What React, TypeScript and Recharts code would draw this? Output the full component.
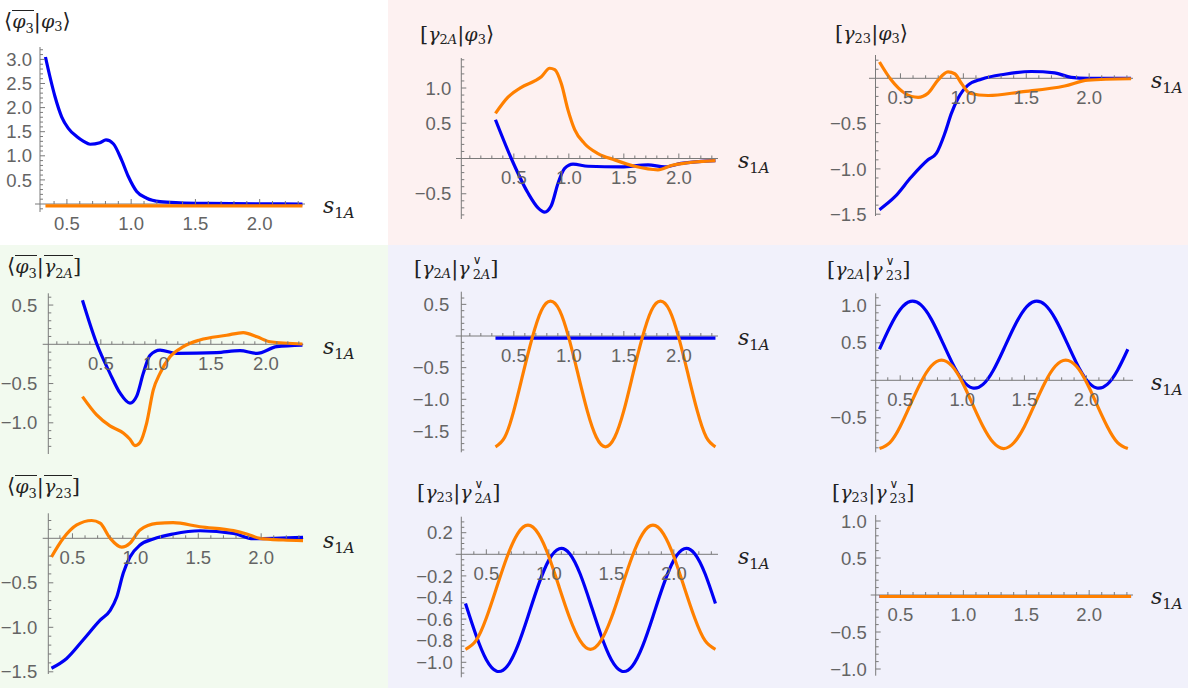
import React from 'react'
import { LineChart, Line, XAxis, YAxis, ReferenceLine } from 'recharts'

const W = 1188
const H = 688
const BLUE = '#0000f5'
const ORANGE = '#ff8000'
const AXIS = '#7a7a7a'
const LABEL = '#646464'
const SERIF = '"DejaVu Serif", serif'
const SANS = '"Liberation Sans", Arial, sans-serif'

type Pt = { s: number; v: number }
const toPts = (a: number[][]): Pt[] => a.map(([s, v]) => ({ s, v }))

// tick labels on the s axis (same in every panel)
const xMajorTicks = [0.5, 1.0, 1.5, 2.0]

// shared sample points for the periodic panels
const sGrid = [
    0.333, 0.417, 0.5, 0.583, 0.667, 0.75, 0.833, 0.917, 1.0, 1.083, 1.167, 1.25, 1.333,
    1.417, 1.5, 1.583, 1.667, 1.75, 1.833, 1.917, 2.0, 2.083, 2.167, 2.25, 2.333,
]
const onGrid = (vals: number[]): Pt[] => vals.map((v, i) => ({ s: sGrid[i], v }))

// row 1
const p1Blue = [
    [0.333, 3.05], [0.368, 2.64], [0.407, 2.23], [0.459, 1.81], [0.511, 1.57], [0.576, 1.4],
    [0.63, 1.3], [0.68, 1.24], [0.757, 1.27], [0.804, 1.33], [0.861, 1.25], [0.926, 0.91],
    [0.978, 0.57], [1.043, 0.26], [1.121, 0.12], [1.225, 0.05], [1.38, 0.025], [1.6, 0.012],
    [2.0, 0.005], [2.333, 0.0],
]
const p1Orange = [[0.333, -0.04], [1.333, -0.04], [2.333, -0.04]]

const p2Blue = [
    [0.333, 0.55], [0.477, 0.0], [0.629, -0.49], [0.72, -0.7], [0.78, -0.76], [0.84, -0.67],
    [0.902, -0.35], [0.962, -0.14], [1.038, -0.08], [1.174, -0.11], [1.477, -0.12], [1.72, -0.09],
    [1.871, -0.12], [2.022, -0.07], [2.333, -0.03],
]
const p2Orange = [
    [0.333, 0.64], [0.447, 0.87], [0.568, 1.01], [0.69, 1.1], [0.75, 1.16], [0.826, 1.28],
    [0.872, 1.26], [0.932, 1.06], [0.992, 0.69], [1.053, 0.41], [1.144, 0.21], [1.265, 0.07],
    [1.417, -0.02], [1.599, -0.11], [1.81, -0.16], [1.932, -0.1], [2.083, -0.06], [2.333, -0.03],
]

const p3Blue = [
    [0.333, -1.45], [0.454, -1.31], [0.586, -1.09], [0.719, -0.9], [0.785, -0.83], [0.852, -0.61],
    [0.904, -0.39], [0.958, -0.22], [1.037, -0.075], [1.143, -0.01], [1.329, 0.045], [1.54, 0.075],
    [1.726, 0.06], [1.858, 0.01], [1.99, 0.0], [2.333, 0.0],
]
const p3Orange = [
    [0.333, 0.18], [0.427, -0.02], [0.534, -0.165], [0.64, -0.21], [0.719, -0.165], [0.798, -0.02],
    [0.878, 0.07], [0.931, 0.05], [0.984, -0.055], [1.05, -0.165], [1.197, -0.19], [1.46, -0.15],
    [1.805, -0.085], [1.99, -0.02], [2.333, -0.005],
]

// row 2
const p4Blue = [
    [0.333, 0.56], [0.462, 0.01], [0.583, -0.37], [0.674, -0.62], [0.765, -0.75], [0.826, -0.66],
    [0.886, -0.37], [0.947, -0.14], [1.038, -0.075], [1.19, -0.115], [1.553, -0.105], [1.765, -0.08],
    [1.92, -0.115], [2.1, -0.03], [2.333, -0.01],
]
const p4Orange = [
    [0.333, -0.667], [0.462, -0.9], [0.583, -1.04], [0.704, -1.13], [0.765, -1.21], [0.81, -1.29],
    [0.856, -1.25], [0.917, -1.0], [0.977, -0.58], [1.038, -0.37], [1.129, -0.16], [1.25, -0.03],
    [1.4, 0.055], [1.644, 0.115], [1.795, 0.15], [1.92, 0.095], [2.04, 0.033], [2.333, 0.004],
]

const p5Blue = [[0.333, -0.035], [1.333, -0.035], [2.333, -0.035]]
const p5Orange = [
    -1.75, -1.6, -1.18, -0.6, -0.03, 0.4, 0.55, 0.4, -0.03, -0.6, -1.18, -1.6, -1.75,
    -1.6, -1.18, -0.6, -0.03, 0.4, 0.55, 0.4, -0.03, -0.6, -1.18, -1.6, -1.75,
]

const p6Blue = [
    0.414, 0.711, 0.944, 1.052, 1.005, 0.816, 0.536, 0.239, 0.006, -0.102, -0.055, 0.134, 0.414,
    0.711, 0.944, 1.052, 1.005, 0.816, 0.536, 0.239, 0.006, -0.102, -0.055, 0.134, 0.414,
]
const p6Orange = [
    -0.91, -0.83, -0.615, -0.32, -0.025, 0.19, 0.27, 0.19, -0.025, -0.32, -0.615, -0.83, -0.91,
    -0.83, -0.615, -0.32, -0.025, 0.19, 0.27, 0.19, -0.025, -0.32, -0.615, -0.83, -0.91,
]

// row 3
const p7Blue = [
    [0.333, -1.46], [0.454, -1.35], [0.586, -1.14], [0.72, -0.92], [0.8, -0.81], [0.852, -0.66],
    [0.904, -0.39], [0.957, -0.21], [1.037, -0.075], [1.143, -0.008], [1.3, 0.048], [1.514, 0.085],
    [1.78, 0.056], [1.937, -0.004], [2.333, 0.01],
]
const p7Orange = [
    [0.333, -0.21], [0.427, 0.0], [0.534, 0.15], [0.653, 0.2], [0.72, 0.17], [0.8, 0.0],
    [0.891, -0.1], [0.957, -0.056], [1.037, 0.093], [1.17, 0.168], [1.3, 0.176], [1.514, 0.13],
    [1.78, 0.086], [1.885, 0.048], [1.99, 0.0], [2.175, -0.019], [2.333, -0.026],
]

const p8Blue = [
    -0.455, -0.747, -0.976, -1.082, -1.036, -0.85, -0.575, -0.283, -0.054, 0.052, 0.006, -0.18, -0.455,
    -0.747, -0.976, -1.082, -1.036, -0.85, -0.575, -0.283, -0.054, 0.052, 0.006, -0.18, -0.455,
]
const p8Orange = [
    -0.88, -0.8, -0.59, -0.305, -0.02, 0.19, 0.27, 0.19, -0.02, -0.305, -0.59, -0.8, -0.88,
    -0.8, -0.59, -0.305, -0.02, 0.19, 0.27, 0.19, -0.02, -0.305, -0.59, -0.8, -0.88,
]

const p9Blue = [[0.333, -0.02], [1.333, -0.02], [2.333, -0.02]]
const p9Orange = [[0.333, -0.02], [1.333, -0.02], [2.333, -0.02]]

// --- title pieces ---
const Br = ({ c }: { c: string }) => <span style={{ fontSize: 21, fontStyle: 'normal' }}>{c}</span>
const subText = (t: string) => t.split('').map((ch, i) => (ch === 'A' ? <i key={i}>A</i> : ch))
const Sub = ({ t }: { t: string }) => (
    <span style={{ fontSize: 13, position: 'relative', top: 5, fontStyle: 'normal' }}>{subText(t)}</span>
)
const G = ({ c }: { c: string }) => <i>{c}</i>
const Over = ({ children }: { children: React.ReactNode }) => (
    <span style={{ display: 'inline-block', borderTop: '1.3px solid #222', lineHeight: '19px', paddingTop: 1 }}>{children}</span>
)
const Chk = ({ t }: { t: string }) => (
    <span style={{ display: 'inline-flex', flexDirection: 'column', verticalAlign: -9, lineHeight: 1, marginLeft: 3 }}>
        <span style={{ fontSize: 12, lineHeight: '11px', marginBottom: 2 }}>∨</span>
        <span style={{ fontSize: 13, lineHeight: '13px' }}>{subText(t)}</span>
    </span>
)
const phi3 = <><G c="φ" /><Sub t="3" /></>
const g2A = <><G c="γ" /><Sub t="2A" /></>
const g23 = <><G c="γ" /><Sub t="23" /></>

type Panel = {
    title: React.ReactNode
    titleX: number
    titleY: number
    yAxisX: number
    xL: number
    xR: number
    zeroY: number
    yTop: number
    yBot: number
    s0: number
    kx: number
    ky: number
    yMajor: number[]
    yMinorStep: number
    yMinorPer: number
    gap: number
    labelX: number
    blue: Pt[]
    orange: Pt[]
    curve: 'monotone' | 'natural'
}

const panels: Panel[] = [
    {
        title: <><Br c="⟨" /><Over>{phi3}</Over><Br c="|" />{phi3}<Br c="⟩" /></>,
        titleX: 4, titleY: 21, yAxisX: 40, xL: 34, xR: 305, zeroY: 204, yTop: 47, yBot: 213,
        s0: 45.5, kx: 128.5, ky: 48.2, yMajor: [0.5, 1.0, 1.5, 2.0, 2.5, 3.0], yMinorStep: 0.1, yMinorPer: 5,
        gap: 8, labelX: 323, blue: toPts(p1Blue), orange: toPts(p1Orange), curve: 'monotone',
    },
    {
        title: <><Br c="[" />{g2A}<Br c="|" />{phi3}<Br c="⟩" /></>,
        titleX: 420, titleY: 34, yAxisX: 461.3, xL: 455, xR: 718, zeroY: 158.5, yTop: 58, yBot: 220,
        s0: 495.5, kx: 110, ky: 70.5, yMajor: [-0.5, 0.5, 1.0], yMinorStep: 0.1, yMinorPer: 5,
        gap: 10, labelX: 738, blue: toPts(p2Blue), orange: toPts(p2Orange), curve: 'monotone',
    },
    {
        title: <><Br c="[" />{g23}<Br c="|" />{phi3}<Br c="⟩" /></>,
        titleX: 835, titleY: 33, yAxisX: 875.5, xL: 868, xR: 1133, zeroY: 78.3, yTop: 55, yBot: 217,
        s0: 879.5, kx: 125.8, ky: 90.6, yMajor: [-1.5, -1.0, -0.5], yMinorStep: 0.1, yMinorPer: 5,
        gap: 9, labelX: 1151, blue: toPts(p3Blue), orange: toPts(p3Orange), curve: 'monotone',
    },
    {
        title: <><Br c="⟨" /><Over>{phi3}</Over><Br c="|" /><Over>{g2A}</Over><Br c="]" /></>,
        titleX: 7, titleY: 266, yAxisX: 48.3, xL: 41.7, xR: 303.3, zeroY: 344.3, yTop: 293.3, yBot: 455,
        s0: 82.5, kx: 110, ky: 78.5, yMajor: [-1.0, -0.5, 0.5], yMinorStep: 0.1, yMinorPer: 5,
        gap: 11, labelX: 323, blue: toPts(p4Blue), orange: toPts(p4Orange), curve: 'monotone',
    },
    {
        title: <><Br c="[" />{g2A}<Br c="|" /><G c="γ" /><Chk t="2A" /><Br c="]" /></>,
        titleX: 414, titleY: 268, yAxisX: 461.3, xL: 454.7, xR: 718, zeroY: 336, yTop: 291.7, yBot: 453.3,
        s0: 495.5, kx: 110, ky: 63.3, yMajor: [-1.5, -1.0, -0.5, 0.5], yMinorStep: 0.1, yMinorPer: 5,
        gap: 12, labelX: 738, blue: toPts(p5Blue), orange: onGrid(p5Orange), curve: 'natural',
    },
    {
        title: <><Br c="[" />{g2A}<Br c="|" /><G c="γ" /><Chk t="23" /><Br c="]" /></>,
        titleX: 827, titleY: 269, yAxisX: 875.7, xL: 869.7, xR: 1133, zeroY: 380.3, yTop: 293.3, yBot: 453.3,
        s0: 879.5, kx: 124.2, ky: 75, yMajor: [-0.5, 0.5, 1.0], yMinorStep: 0.1, yMinorPer: 5,
        gap: 9, labelX: 1151, blue: onGrid(p6Blue), orange: onGrid(p6Orange), curve: 'natural',
    },
    {
        title: <><Br c="⟨" /><Over>{phi3}</Over><Br c="|" /><Over>{g23}</Over><Br c="]" /></>,
        titleX: 7, titleY: 486, yAxisX: 48.3, xL: 41.7, xR: 303.3, zeroY: 538.3, yTop: 513.3, yBot: 675,
        s0: 51.5, kx: 125.8, ky: 89, yMajor: [-1.5, -1.0, -0.5], yMinorStep: 0.1, yMinorPer: 5,
        gap: 11, labelX: 323, blue: toPts(p7Blue), orange: toPts(p7Orange), curve: 'monotone',
    },
    {
        title: <><Br c="[" />{g23}<Br c="|" /><G c="γ" /><Chk t="2A" /><Br c="]" /></>,
        titleX: 417, titleY: 492, yAxisX: 461.3, xL: 454.7, xR: 718, zeroY: 554.3, yTop: 516.7, yBot: 678.3,
        s0: 465.5, kx: 125, ky: 108, yMajor: [-1.0, -0.8, -0.6, -0.4, -0.2, 0.2], yMinorStep: 0.05, yMinorPer: 4,
        gap: 8.5, labelX: 738, blue: onGrid(p8Blue), orange: onGrid(p8Orange), curve: 'natural',
    },
    {
        title: <><Br c="[" />{g23}<Br c="|" /><G c="γ" /><Chk t="23" /><Br c="]" /></>,
        titleX: 832, titleY: 492, yAxisX: 875.7, xL: 869.7, xR: 1133, zeroY: 595, yTop: 515, yBot: 676.7,
        s0: 879.5, kx: 125.8, ky: 74, yMajor: [-1.0, -0.5, 0.5, 1.0], yMinorStep: 0.1, yMinorPer: 5,
        gap: 9, labelX: 1151, blue: toPts(p9Blue), orange: toPts(p9Orange), curve: 'natural',
    },
]

const fmt = (v: number) => (v < 0 ? '\u2212' : '') + Math.abs(v).toFixed(1)
const near = (a: number, list: number[]) => list.some((b) => Math.abs(a - b) < 1e-6)

function minorTicks(lo: number, hi: number, step: number, per: number) {
    const out: number[] = []
    for (let i = Math.ceil(lo / step); i <= Math.floor(hi / step); i++) {
        if (i % per !== 0) out.push(+(i * step).toFixed(3))
    }
    return out
}

function PanelChart({ p }: { p: Panel }) {
    // axes get 1px of room so Recharts still draws their ticks
    const plotL = p.xL + 1
    const plotB = p.yBot - 1
    const sL = 1 / 3 + (plotL - p.s0) / p.kx
    const sR = 1 / 3 + (p.xR - p.s0) / p.kx
    const vT = (p.zeroY - p.yTop) / p.ky
    const vB = (p.zeroY - plotB) / p.ky
    const sAxis = 1 / 3 + (p.yAxisX - p.s0) / p.kx
    const xTicks = [...xMajorTicks, ...minorTicks(sL, sR, 0.1, 5).filter((t) => Math.abs(t - sAxis) * p.kx > 3)]
    const yTicks = [...p.yMajor, ...minorTicks(vB, vT, p.yMinorStep, p.yMinorPer)]

    const xTick = (t: any) => {
        const v = t.payload.value
        const major = near(v, xMajorTicks)
        return (
            <g>
                <line x1={t.x} x2={t.x} y1={p.zeroY} y2={p.zeroY - (major ? 5 : 3)} stroke={AXIS} strokeWidth={1} />
                {major && (
                    <text x={t.x} y={p.zeroY + 25.5} textAnchor="middle" fontSize={18.5} fill={LABEL} fontFamily={SANS}>
                        {fmt(v)}
                    </text>
                )}
            </g>
        )
    }
    const yTick = (t: any) => {
        const v = t.payload.value
        const major = near(v, p.yMajor)
        return (
            <g>
                <line x1={p.yAxisX} x2={p.yAxisX + (major ? 5 : 3)} y1={t.y} y2={t.y} stroke={AXIS} strokeWidth={1} />
                {major && (
                    <text x={p.yAxisX - p.gap} y={t.y + 6.6} textAnchor="end" fontSize={18.5} fill={LABEL} fontFamily={SANS}>
                        {fmt(v)}
                    </text>
                )}
            </g>
        )
    }

    return (
        <div style={{ position: 'absolute', left: 0, top: 0 }}>
            <LineChart width={W} height={H} margin={{ left: p.xL, right: W - p.xR, top: p.yTop, bottom: H - p.yBot }}>
                <XAxis type="number" dataKey="s" domain={[sL, sR]} allowDataOverflow ticks={xTicks} interval={0}
                    height={1} axisLine={false} tickLine={false} tick={xTick} />
                <YAxis type="number" domain={[vB, vT]} allowDataOverflow ticks={yTicks} interval={0}
                    width={1} axisLine={false} tickLine={false} tick={yTick} />
                <ReferenceLine y={0} stroke={AXIS} strokeWidth={1} />
                <ReferenceLine x={sAxis} stroke={AXIS} strokeWidth={1} />
                <Line data={p.blue} dataKey="v" type={p.curve} stroke={BLUE} strokeWidth={3.2} dot={false} isAnimationActive={false} />
                <Line data={p.orange} dataKey="v" type={p.curve} stroke={ORANGE} strokeWidth={3.2} dot={false} isAnimationActive={false} />
            </LineChart>
        </div>
    )
}

export default function App() {
    return (
        <div style={{ position: 'absolute', left: 0, top: 0, width: W, height: H, overflow: 'hidden', background: '#fff' }}>
            <div style={{ position: 'absolute', left: 388, top: 0, width: 800, height: 245, background: '#fdf1f1' }} />
            <div style={{ position: 'absolute', left: 0, top: 245, width: 388, height: 443, background: '#f2faef' }} />
            <div style={{ position: 'absolute', left: 388, top: 245, width: 800, height: 443, background: '#f1f1fb' }} />
            {panels.map((p, i) => (
                <PanelChart key={i} p={p} />
            ))}
            {panels.map((p, i) => (
                <div key={'t' + i} style={{
                    position: 'absolute', left: p.titleX, top: p.titleY - 14, height: 28, display: 'flex',
                    alignItems: 'center', fontFamily: SERIF, fontSize: 19, color: '#222', whiteSpace: 'nowrap',
                }}>
                    {p.title}
                </div>
            ))}
            {panels.map((p, i) => (
                <div key={'s' + i} style={{
                    position: 'absolute', left: p.labelX, top: p.zeroY + 10 - 18.6, fontFamily: SERIF,
                    fontSize: 22, lineHeight: '22px', color: '#222', whiteSpace: 'nowrap',
                }}>
                    <i>s</i>
                    <span style={{ fontSize: 15, position: 'relative', top: 5 }}>1<i>A</i></span>
                </div>
            ))}
        </div>
    )
}
